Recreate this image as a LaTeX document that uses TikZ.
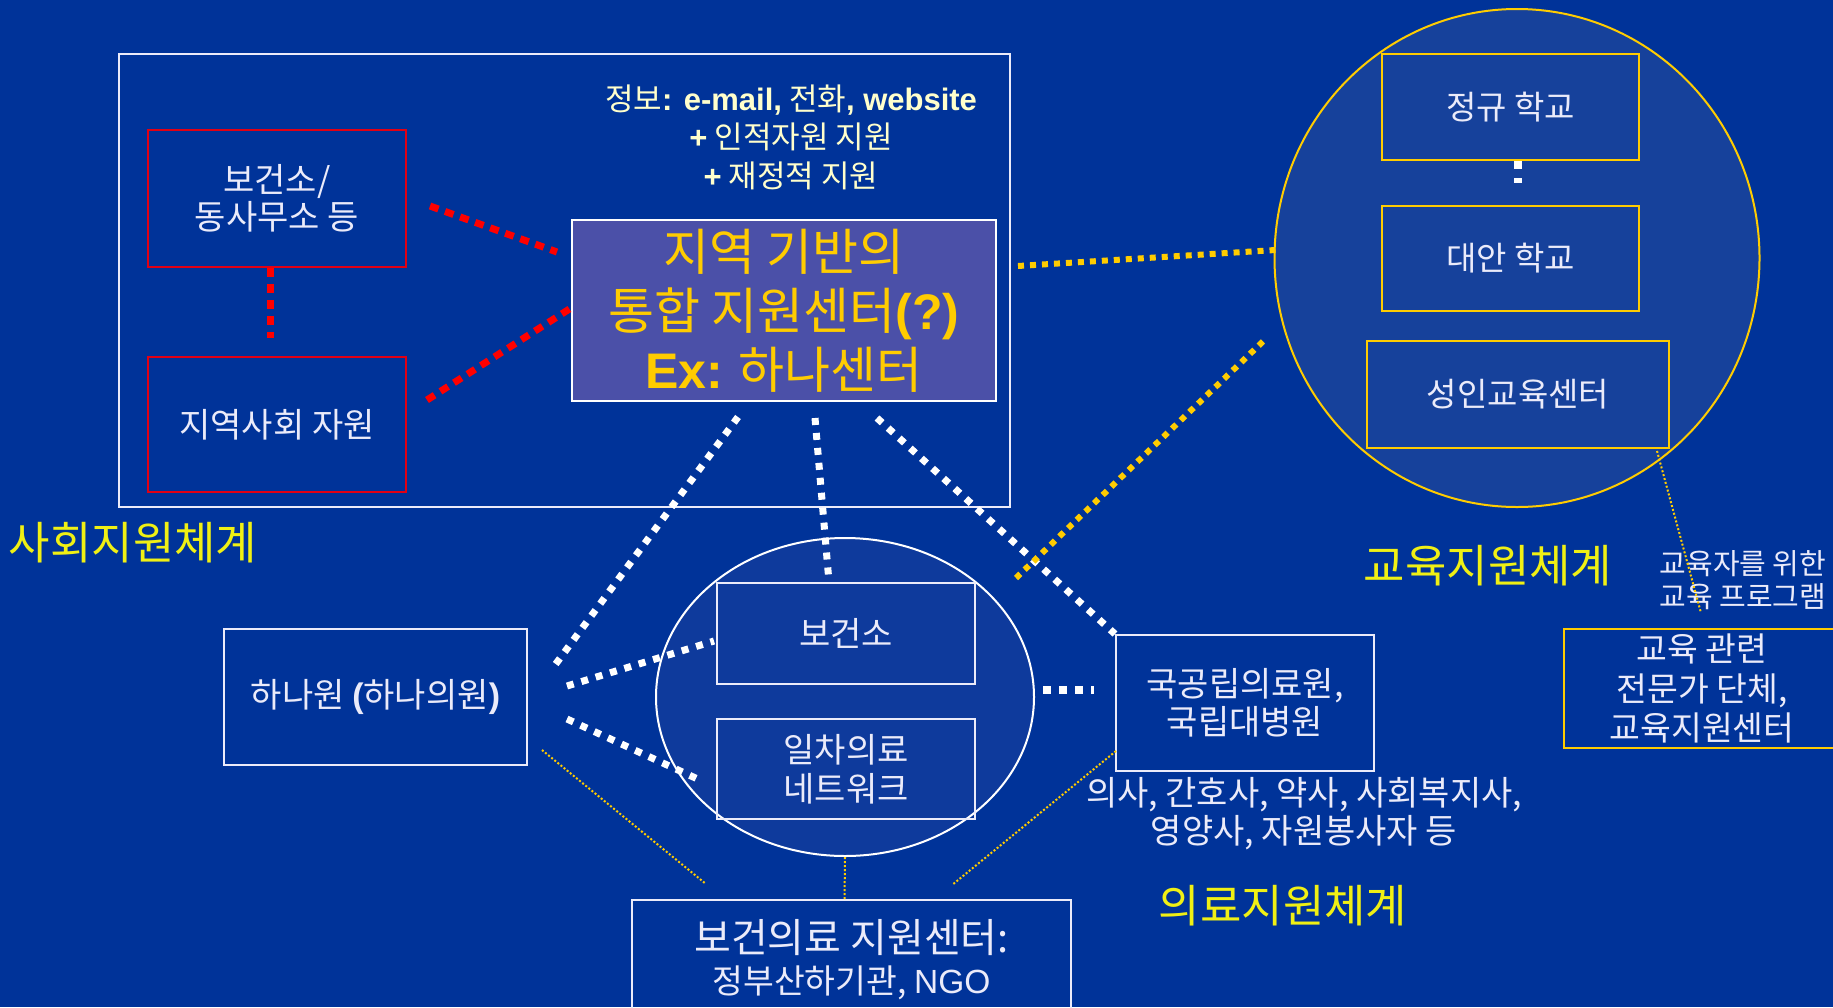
\documentclass[tikz,border=0pt]{standalone}
\usepackage{fontspec}
\setmainfont{Noto Sans CJK KR}
\newfontfamily\lat{Liberation Sans}
\usetikzlibrary{shapes.geometric,calc}
\definecolor{bg}{RGB}{0,51,153}
\definecolor{cfill}{RGB}{75,80,168}
\definecolor{circfill}{RGB}{22,65,155}
\definecolor{efill}{RGB}{14,58,156}
\definecolor{gold}{RGB}{255,204,0}
\definecolor{ttl}{RGB}{240,240,20}
\definecolor{txt}{RGB}{235,235,250}
\definecolor{cream}{RGB}{255,255,204}
\definecolor{redline}{RGB}{255,0,0}
\definecolor{redbox}{RGB}{225,0,20}
\begin{document}
\begin{tikzpicture}[x=1pt,y=-1pt,
  wbox/.style={draw=txt, line width=2pt, inner sep=0pt, text=txt, align=center},
  rbox/.style={draw=redbox, line width=2pt, inner sep=0pt, text=txt, align=center},
  ybox/.style={draw=gold, line width=2pt, inner sep=0pt, text=txt, align=center},
  body/.style={font=\fontsize{34}{38}\selectfont},
  ttlstyle/.style={text=ttl, inner sep=0pt, font=\fontsize{45}{50}\selectfont},
  reddot/.style={draw=redline, line width=7pt, dash pattern=on 9pt off 7pt},
  whitedot/.style={draw=white, line width=7pt, dash pattern=on 7pt off 8pt},
  golddot/.style={draw=gold, line width=6pt, dash pattern=on 6pt off 6pt},
  thindot/.style={draw=gold, line width=2pt, dash pattern=on 2pt off 2pt},
]
\useasboundingbox (0,0) rectangle (1833,1007);
\fill[bg] (0,0) rectangle (1833,1007);

% social support system
\node[wbox, minimum width=891pt, minimum height=453pt] (soc) at (564.5,280.5) {};
\node[rbox, body, minimum width=258pt, minimum height=137pt, font=\fontsize{34}{37}\selectfont] (ba) at (277,198.5) {보건소/\\동사무소 등};
\node[rbox, body, minimum width=258pt, minimum height=135pt] (bb) at (277,424.5) {지역사회 자원};
\node[draw=white, line width=2pt, fill=cfill, minimum width=424pt, minimum height=181pt, inner sep=0pt, text=gold, align=center, font=\fontsize{50}{59}\selectfont] (hub) at (784,310.5) {지역 기반의\\통합 지원센터{\lat\bfseries(?)}\\{\lat\bfseries Ex:} 하나센터};
\node[text=cream, align=center, inner sep=0pt, font=\fontsize{31}{38.5}\selectfont] (info) at (791,137) {정보{\lat\bfseries: e-mail,} 전화{\lat\bfseries, website}\\{\lat\bfseries +} 인적자원 지원\\{\lat\bfseries +} 재정적 지원};
\node[ttlstyle] (t1) at (133,543) {사회지원체계};

% education support system
\node[ellipse, draw=gold, line width=2pt, fill=circfill, minimum width=485pt, minimum height=498pt, inner sep=0pt] (edu) at (1517,258) {};
\node[ybox, minimum width=257pt, minimum height=106pt, font=\fontsize{33}{38}\selectfont] (jk) at (1510.5,107) {정규 학교};
\node[ybox, minimum width=257pt, minimum height=105pt, font=\fontsize{33}{38}\selectfont] (da) at (1510.5,258.5) {대안 학교};
\node[ybox, minimum width=302pt, minimum height=107pt, font=\fontsize{33}{38}\selectfont] (si) at (1518,394.5) {성인교육센터};
\node[ttlstyle] (t2) at (1488,566) {교육지원체계};
\node[text=txt, align=center, inner sep=0pt, font=\fontsize{29}{33}\selectfont] (prog) at (1743,580.5) {교육자를 위한\\교육 프로그램};
\node[ybox, minimum width=276pt, minimum height=119pt, font=\fontsize{33.5}{39.5}\selectfont] (eduorg) at (1702,688.5) {교육 관련\\전문가 단체,\\교육지원센터};

% medical support system
\node[ellipse, draw=white, line width=2pt, fill=efill, minimum width=378pt, minimum height=318pt, inner sep=0pt] (med) at (845,697) {};
\node[wbox, body, minimum width=258pt, minimum height=101pt] (bg2) at (846,633.5) {보건소};
\node[wbox, minimum width=258pt, minimum height=100pt, font=\fontsize{34}{39}\selectfont] (il) at (846,769) {일차의료\\네트워크};
\node[wbox, body, minimum width=303pt, minimum height=136pt] (ham) at (375.5,697) {하나원 {\lat\bfseries(}하나의원{\lat\bfseries)}};
\node[wbox, body, minimum width=258pt, minimum height=136pt] (kuk) at (1245,703) {국공립의료원,\\국립대병원};
\node[text=txt, align=center, inner sep=0pt, body] (staff) at (1304,814) {의사, 간호사, 약사, 사회복지사,\\영양사, 자원봉사자 등};
\node[ttlstyle] (t3) at (1283,906) {의료지원체계};
\node[wbox, minimum width=439pt, minimum height=120pt, font=\fontsize{40}{41}\selectfont] (hc) at (851.5,960) {보건의료 지원센터:\\{\fontsize{33.5}{41}\selectfont 정부산하기관, {\lat NGO}}};

% red connectors
\draw[reddot] ($(ba.south)+(-7,0)$) -- ++(0,70);
\draw[reddot] ($(ba.east)+(23,7.5)$) -- ($(hub.west)+(-14,-58.5)$);
\draw[reddot] ($(bb.east)+(20,-24.5)$) -- ($(hub.west)+(0,-2.5)$);

% white connectors
\draw[whitedot] ($(hub.south)+(-46,15)$) -- ($(ham.north east)+(27,37)$);
\draw[whitedot] ($(hub.south)+(31,16)$) -- ($(bg2.north)+(-17,0)$);
\draw[whitedot] ($(hub.south)+(93,16)$) -- (kuk.north west);
\draw[whitedot] ($(ham.east)+(39,-11)$) -- ($(bg2.west)+(-2,7.5)$);
\draw[whitedot] ($(ham.east)+(39,22)$) -- ($(il.west)+(-14,12)$);
\draw[draw=white, line width=7.5pt, dash pattern=on 7.5pt off 8.5pt] ($(med.east)+(8,-7)$) -- ($(kuk.west)+(-21,-13)$);
\draw[draw=white, line width=8pt, dash pattern=on 8pt off 9pt] ($(jk.south)+(7.5,0)$) -- ($(da.north)+(7.5,-22)$);

% gold connectors
\draw[golddot] ($(hub.east)+(21,-44.5)$) -- ($(edu.west)+(2,-8)$);
\draw[golddot] ($(hub.south east)+(19,176)$) -- ($(edu.west)+(-9,82)$);

% thin gold leaders
\draw[thindot] ($(si.south east)+(-13,2)$) -- ($(si.south east)+(31,164)$);
\draw[thindot] ($(ham.south east)+(14,-16)$) -- ($(hc.north west)+(75,-15)$);
\draw[thindot] ($(kuk.south west)+(1,-21)$) -- ($(hc.north east)+(-120,-14)$);
\draw[thindot] (med.south) -- ($(hc.north)+(-7,0)$);
\end{tikzpicture}
\end{document}
